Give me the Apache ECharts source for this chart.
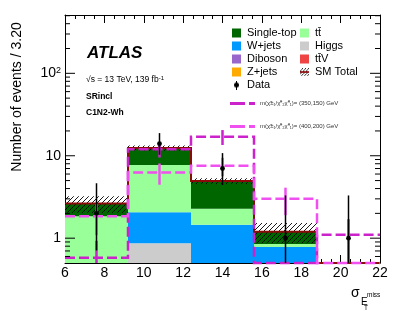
<!DOCTYPE html>
<html><head><meta charset="utf-8">
<script src="https://cdn.jsdelivr.net/npm/echarts@6/dist/echarts.min.js"></script>
<style>html,body{margin:0;padding:0;background:#fff}#c{width:407px;height:311px}</style>
</head><body><div id="c"></div>
<script>
// ---------------- data ----------------
const binEdges    = [6, 9.2, 12.4, 15.6, 18.8, 22];
const xTicks      = [6, 8, 10, 12, 14, 16, 18, 20, 22];
const yTickLabels = ['1', '10', '10²'];
const diboson     = [0.05, 0.08, 0.06, 0.02, 0.01];
const zjets       = [0.02, 0.05, 0.03, 0.01, 0.00];
const ttV         = [0.03, 0.10, 0.05, 0.02, 0.01];
const higgs       = [0.10, 0.64, 0.15, 0.03, 0.00];
const wjets       = [0.15, 1.19, 1.17, 0.70, 0.03];
const ttbar       = [1.49, 5.64, 0.81, 0.07, 0.02];
const singleTop   = [0.79, 4.70, 2.67, 0.35, 0.02];
const totalErr    = [0.60, 0.90, 0.40, 0.33, 0.05];
const dataVals    = [2, 14, 7, 1, 1];
const dataErrUp   = [2.64, 4.83, 3.77, 2.30, 2.30];
const dataErrDown = [1.29, 3.70, 2.58, 0.83, 0.83];
const sig350      = [0.58, 12.0, 17.0, 0.0, 1.1];
const sig350Err   = [0.35, 2.5, 3.5, 0.0, 0.6];
const sig400      = [1.84, 6.25, 7.55, 3.0, 0.0];
const sig400Err   = [0.75, 1.8, 1.9, 1.1, 0.0];

// ---------------- setup ----------------
const Y_MIN = 0.5, Y_MAX = 510;
const FONT = '"Liberation Sans", Arial, Helvetica, sans-serif';
const SIG350_NAME = 'm(χ̃±₁/χ̃⁰₂χ̃⁰₁)= (350,150) GeV';
const SIG400_NAME = 'm(χ̃±₁/χ̃⁰₂χ̃⁰₁)= (400,200) GeV';
const C_SIG350 = '#cc22cc', C_SIG400 = '#f050f0', C_TOT = '#8b0a0a';
const nBins = binEdges.length - 1;
const clampY = v => Math.min(Y_MAX, Math.max(Y_MIN, v));

function makeCanvas(w, h, fn) { const c = document.createElement('canvas'); c.width = w; c.height = h; fn(c.getContext('2d')); return c; }
const hatch = makeCanvas(5, 5, ctx => {
  ctx.strokeStyle = '#000'; ctx.lineWidth = 0.9;
  ctx.beginPath();
  ctx.moveTo(-1, 6); ctx.lineTo(6, -1);
  ctx.moveTo(-1, 1); ctx.lineTo(1, -1);
  ctx.moveTo(4, 6); ctx.lineTo(6, 4);
  ctx.stroke();
});
const hatchPattern = { image: hatch, repeat: 'repeat' };
const iconSM = 'image://' + makeCanvas(12, 10, ctx => {
  ctx.strokeStyle = '#000'; ctx.lineWidth = 1;
  ctx.beginPath();
  for (let x = -6; x < 14; x += 4) { ctx.moveTo(x, 10); ctx.lineTo(x + 10, 0); }
  ctx.stroke();
  ctx.strokeStyle = C_TOT; ctx.lineWidth = 2;
  ctx.beginPath(); ctx.moveTo(0, 5); ctx.lineTo(12, 5); ctx.stroke();
}).toDataURL();
const iconData = 'image://' + makeCanvas(9, 9, ctx => {
  ctx.fillStyle = '#000'; ctx.fillRect(4, 0, 1, 9);
  ctx.beginPath(); ctx.arc(4.5, 4.5, 2.5, 0, Math.PI * 2); ctx.fill();
}).toDataURL();
function dashIcon(color) {
  return 'image://' + makeCanvas(25, 3, ctx => {
    ctx.fillStyle = color; ctx.fillRect(0, 0, 15, 3); ctx.fillRect(19, 0, 6, 3);
  }).toDataURL();
}

// ---------------- stacked backgrounds ----------------
const stackDefs = [
  { name: 'Diboson',    vals: diboson,   color: '#9966cc' },
  { name: 'Z+jets',     vals: zjets,     color: '#ffaa00' },
  { name: 'tt̄V',       vals: ttV,       color: '#ee4444' },
  { name: 'Higgs',      vals: higgs,     color: '#cccccc' },
  { name: 'W+jets',     vals: wjets,     color: '#0099ff' },
  { name: 'tt̄',        vals: ttbar,     color: '#99ff99' },
  { name: 'Single-top', vals: singleTop, color: '#006600' },
];
function rectItem(api, x0, x1, y0, y1, style) {
  const a = clampY(y0), b = clampY(y1);
  if (b <= a) return null;
  const p0 = api.coord([x0, a]), p1 = api.coord([x1, b]);
  return { type: 'rect', shape: { x: p0[0], y: p1[1], width: p1[0] - p0[0], height: p0[1] - p1[1] }, style };
}
const series = [];
const cum = new Array(nBins).fill(0);
stackDefs.forEach((d, k) => {
  const data = d.vals.map((v, i) => [binEdges[i], binEdges[i + 1], cum[i], cum[i] + v]);
  d.vals.forEach((v, i) => cum[i] += v);
  series.push({
    type: 'custom', name: d.name, z: 2 + k * 0.01, silent: true,
    itemStyle: { color: d.color },
    encode: { x: 0, y: 3 },
    data,
    renderItem: (params, api) =>
      rectItem(api, api.value(0), api.value(1), api.value(2), api.value(3), { fill: d.color }) || { type: 'group', children: [] }
  });
});
const totals = cum.slice();

// hatched uncertainty band
series.push({
  type: 'custom', name: 'SM Total', z: 3, silent: true,
  itemStyle: { color: C_TOT },
  encode: { x: 0, y: 3 },
  data: totals.map((t, i) => [binEdges[i], binEdges[i + 1], Math.max(t - totalErr[i], 1e-3), t + totalErr[i]]),
  renderItem: (params, api) =>
    rectItem(api, api.value(0), api.value(1), api.value(2), api.value(3), { fill: hatchPattern }) || { type: 'group', children: [] }
});

function stepPath(api, vals) {
  const pts = [];
  vals.forEach((v, i) => {
    pts.push(api.coord([binEdges[i], clampY(v)]));
    pts.push(api.coord([binEdges[i + 1], clampY(v)]));
  });
  return pts;
}
// SM total outline
series.push({
  type: 'custom', name: 'SM line', z: 4, silent: true,
  encode: { x: 0, y: 1 },
  data: [[binEdges[0], totals[0]]],
  renderItem: (params, api) => ({
    type: 'polyline', shape: { points: stepPath(api, totals) },
    style: { stroke: C_TOT, lineWidth: 2, fill: null }
  })
});

// signals
function signalSeries(name, vals, errs, color, z) {
  return {
    type: 'custom', name, z, silent: true,
    itemStyle: { color },
    encode: { x: 0, y: 1 },
    data: vals.map((v, i) => [(binEdges[i] + binEdges[i + 1]) / 2, v, errs[i]]),
    renderItem: (params, api) => {
      const children = [];
      if (params.dataIndex === 0) {
        children.push({ type: 'polyline', shape: { points: stepPath(api, vals) },
          style: { stroke: color, lineWidth: 2.5, fill: null, lineDash: [10, 4] } });
      }
      const c = api.value(0), v = api.value(1), e = api.value(2);
      if (v > 0 && e > 0) {
        const p0 = api.coord([c, clampY(v - e)]), p1 = api.coord([c, clampY(v + e)]);
        children.push({ type: 'line', shape: { x1: p0[0], y1: p0[1], x2: p1[0], y2: p1[1] },
          style: { stroke: color, lineWidth: 2.5 } });
      }
      return { type: 'group', children };
    }
  };
}
series.push(signalSeries(SIG350_NAME, sig350, sig350Err, C_SIG350, 5));
series.push(signalSeries(SIG400_NAME, sig400, sig400Err, C_SIG400, 6));

// data points
series.push({
  type: 'custom', name: 'Data', z: 8, silent: true,
  itemStyle: { color: '#000' },
  encode: { x: 0, y: 1 },
  data: dataVals.map((v, i) => [(binEdges[i] + binEdges[i + 1]) / 2, v, dataErrUp[i], dataErrDown[i]]),
  renderItem: (params, api) => {
    const c = api.value(0), v = api.value(1);
    const p = api.coord([c, v]);
    const pu = api.coord([c, clampY(v + api.value(2))]), pd = api.coord([c, clampY(v - api.value(3))]);
    return { type: 'group', children: [
      { type: 'line', shape: { x1: pd[0], y1: pd[1], x2: pu[0], y2: pu[1] }, style: { stroke: '#000', lineWidth: 1.5 } },
      { type: 'circle', shape: { cx: p[0], cy: p[1], r: 2.4 }, style: { fill: '#000' } }
    ] };
  }
});

// y-axis log ticks (both sides)
series.push({
  type: 'custom', name: 'yticks', z: 10, silent: true,
  encode: { x: 0, y: 1 },
  data: [[6, 1]],
  renderItem: (params, api) => {
    const children = [];
    for (let k = -1; k <= 2; k++) {
      for (let m = 1; m <= 9; m++) {
        const v = m * Math.pow(10, k);
        if (v <= Y_MIN || v >= Y_MAX) continue;
        const len = m === 1 ? 10 : 5;
        const l = api.coord([xTicks[0], v]), r = api.coord([xTicks[xTicks.length - 1], v]);
        children.push({ type: 'line', shape: { x1: l[0], y1: l[1], x2: l[0] + len, y2: l[1] }, style: { stroke: '#000', lineWidth: 1 } });
        children.push({ type: 'line', shape: { x1: r[0], y1: r[1], x2: r[0] - len, y2: r[1] }, style: { stroke: '#000', lineWidth: 1 } });
      }
    }
    return { type: 'group', children };
  }
});

function isPow10(v) { const l = Math.log10(v); return Math.abs(l - Math.round(l)) < 1e-6; }

const xAxisCommon = {
  type: 'value', min: xTicks[0], max: xTicks[xTicks.length - 1], interval: xTicks[1] - xTicks[0],
  axisLine: { show: true, lineStyle: { color: '#000', width: 1 } },
  axisTick: { show: true, inside: true, length: 8, lineStyle: { color: '#000' } },
  minorTick: { show: true, splitNumber: 4, length: 4, lineStyle: { color: '#000' } },
  splitLine: { show: false }, minorSplitLine: { show: false }
};
const yAxisCommon = {
  type: 'log', logBase: 10, min: Y_MIN, max: Y_MAX,
  axisLine: { show: true, lineStyle: { color: '#000', width: 1 } },
  axisTick: { show: false }, splitLine: { show: false }, minorTick: { show: false }
};

const option = {
  animation: false,
  backgroundColor: '#fff',
  grid: { left: 65, right: 27, top: 15, bottom: 48, containLabel: false },
  xAxis: [
    Object.assign({}, xAxisCommon, { position: 'bottom',
      axisLabel: { show: true, fontSize: 14, color: '#000', fontFamily: FONT, margin: 3,
        formatter: v => xTicks.includes(v) ? String(v) : '' } }),
    Object.assign({}, xAxisCommon, { position: 'top', axisLabel: { show: false } })
  ],
  yAxis: [
    Object.assign({}, yAxisCommon, { position: 'left',
      axisLabel: { show: true, color: '#000', fontFamily: FONT, fontSize: 14, margin: 4,
        showMinLabel: false, showMaxLabel: false,
        formatter: v => {
          if (!isPow10(v)) return '';
          const e = Math.round(Math.log10(v));
          if (e === 0) return yTickLabels[0];
          if (e === 1) return yTickLabels[1];
          if (e === 2) return '{n|10}{p|2}';
          return '';
        },
        rich: { n: { fontSize: 14, fontFamily: FONT, color: '#000' }, p: { fontSize: 9, fontFamily: FONT, color: '#000', verticalAlign: 'top', padding: [0, 0, 6, 0] } }
      } }),
    Object.assign({}, yAxisCommon, { position: 'right', axisLabel: { show: false } })
  ],
  legend: [
    { orient: 'vertical', left: 232, top: 27.5, itemWidth: 9, itemHeight: 9, itemGap: 2, padding: 0, selectedMode: false,
      textStyle: { fontFamily: FONT, fontSize: 11, color: '#000', padding: [0, 0, 0, 1] },
      data: [{ name: 'Single-top', icon: 'rect' }, { name: 'W+jets', icon: 'rect' }, { name: 'Diboson', icon: 'rect' },
             { name: 'Z+jets', icon: 'rect' }, { name: 'Data', icon: iconData }] },
    { orient: 'vertical', left: 300, top: 27.5, itemWidth: 9, itemHeight: 9, itemGap: 2, padding: 0, selectedMode: false,
      textStyle: { fontFamily: FONT, fontSize: 11, color: '#000', padding: [0, 0, 0, 1] },
      data: [{ name: 'tt̄', icon: 'rect' }, { name: 'Higgs', icon: 'rect' }, { name: 'tt̄V', icon: 'rect' },
             { name: 'SM Total', icon: iconSM }] },
    { orient: 'vertical', left: 230, top: 100.5, itemWidth: 25, itemHeight: 3, itemGap: 17, padding: 0, selectedMode: false,
      textStyle: { fontFamily: FONT, fontSize: 6, color: '#333' },
      data: [{ name: SIG350_NAME, icon: dashIcon(C_SIG350) }, { name: SIG400_NAME, icon: dashIcon(C_SIG400) }] }
  ],
  graphic: [
    { type: 'text', left: 87, top: 45, style: { text: 'ATLAS', font: 'italic bold 17px ' + FONT, fill: '#000' } },
    { type: 'text', left: 86, top: 75, style: { text: '{a|√s = 13 TeV, 139 fb}{s|-1}',
        rich: { a: { fontSize: 8.5, fontFamily: FONT, fill: '#000' }, s: { fontSize: 6, fontFamily: FONT, fill: '#000', verticalAlign: 'top' } } } },
    { type: 'text', left: 86, top: 92, style: { text: 'SRincl', font: 'bold 8.5px ' + FONT, fill: '#000' } },
    { type: 'text', left: 86, top: 108, style: { text: 'C1N2-Wh', font: 'bold 8.5px ' + FONT, fill: '#000' } },
    { type: 'text', x: 17, y: 97, rotation: Math.PI / 2,
      style: { text: 'Number of events / 3.20', font: '14px ' + FONT, fill: '#000', align: 'center', verticalAlign: 'middle' } },
    { type: 'text', left: 351, top: 286, style: { text: 'σ', font: '14px ' + FONT, fill: '#000' } },
    { type: 'text', left: 361, top: 297, style: { text: 'E', font: '10px ' + FONT, fill: '#000' } },
    { type: 'text', left: 367, top: 292, style: { text: 'miss', font: '6.5px ' + FONT, fill: '#000' } },
    { type: 'text', left: 364, top: 305, style: { text: 'T', font: '6.5px ' + FONT, fill: '#000' } }
  ],
  series
};
const chart = echarts.init(document.getElementById('c'), null, { renderer: 'canvas' });
chart.setOption(option);
</script>
</body></html>
